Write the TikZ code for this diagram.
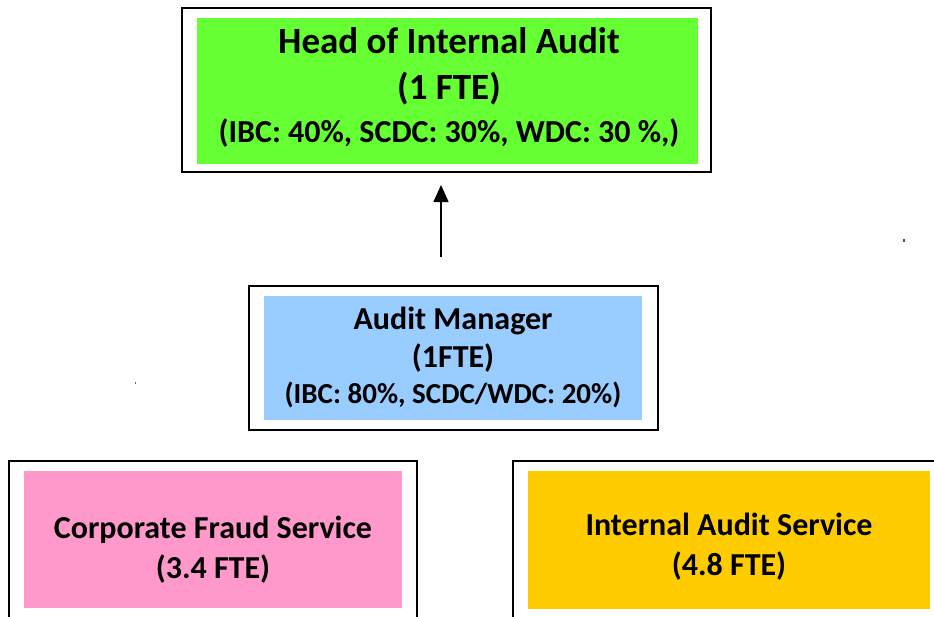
\documentclass[tikz,border=0pt]{standalone}
\usepackage{fontspec}
\setmainfont{Carlito}
\usetikzlibrary{arrows.meta}
\definecolor{headgreen}{HTML}{66FF33}
\definecolor{mgrblue}{HTML}{99CCFF}
\definecolor{fraudpink}{HTML}{FF99CC}
\definecolor{auditgold}{HTML}{FFCC00}
\tikzset{
  frame/.style={draw=black, line width=1.8pt, fill=white, rectangle, inner sep=0pt},
  panel/.style={rectangle, inner sep=0pt},
  caption/.style={inner sep=0pt, align=center, text=black},
  link/.style={draw=black, line width=1.6pt, -{Triangle[length=17pt,width=15pt]}}
}
\begin{document}
\begin{tikzpicture}[x=1pt,y=-1pt]
\useasboundingbox (0,0) rectangle (934,616);
\clip (0,0) rectangle (934,616);
\fill[white] (0,0) rectangle (934,616);

% top
\node[frame, minimum width=529pt, minimum height=164pt] (headframe) at (446.5,90) {};
\node[panel, fill=headgreen, minimum width=501pt, minimum height=146pt] (head) at (447.5,91) {};
\node[caption, font=\bfseries\fontsize{37}{46}\selectfont] (headtext) at ([yshift=4pt,xshift=1.5pt]head.center)
  {Head of Internal Audit\\
   (1 FTE)\\[-3pt]
   {\fontsize{32}{46}\selectfont (IBC: 40\%, SCDC: 30\%, WDC: 30 \%,)}};

% middle
\node[frame, minimum width=409pt, minimum height=144pt] (mgrframe) at (453.5,358) {};
\node[panel, fill=mgrblue, minimum width=378pt, minimum height=124pt] (mgr) at (453,358) {};
\node[caption, font=\bfseries\fontsize{32}{38}\selectfont] (mgrtext) at ([yshift=1pt]mgr.center)
  {Audit Manager\\
   (1FTE)\\[-2pt]
   {\fontsize{29}{38}\selectfont (IBC: 80\%, SCDC/WDC: 20\%)}};

% bottom
\node[frame, minimum width=408pt, minimum height=180pt] (fraudframe) at (213,551) {};
\node[panel, fill=fraudpink, minimum width=378pt, minimum height=137pt] (fraud) at (213,539.5) {};
\node[caption, font=\bfseries\fontsize{32}{40}\selectfont] (fraudtext) at ([yshift=-10.5pt]fraud.center)
  {Corporate Fraud Service\\ (3.4 FTE)};
\node[frame, minimum width=437pt, minimum height=180pt] (auditframe) at (731.5,551) {};
\node[panel, fill=auditgold, minimum width=402pt, minimum height=138pt] (audit) at (729,540) {};
\node[caption, font=\bfseries\fontsize{32}{40}\selectfont] (audittext) at ([yshift=-7pt]audit.center)
  {Internal Audit Service\\ (4.8 FTE)};

% arrow
\coordinate (a1) at (441,257);
\coordinate (a2) at (441,185);
\draw[link] (a1) -- (a2);

% stray marks
\fill[black!70] (903.4,239) rectangle ++(1.2,2.6);
\fill[black!60] (134.6,382) rectangle ++(1.2,2.2);
\end{tikzpicture}
\end{document}
